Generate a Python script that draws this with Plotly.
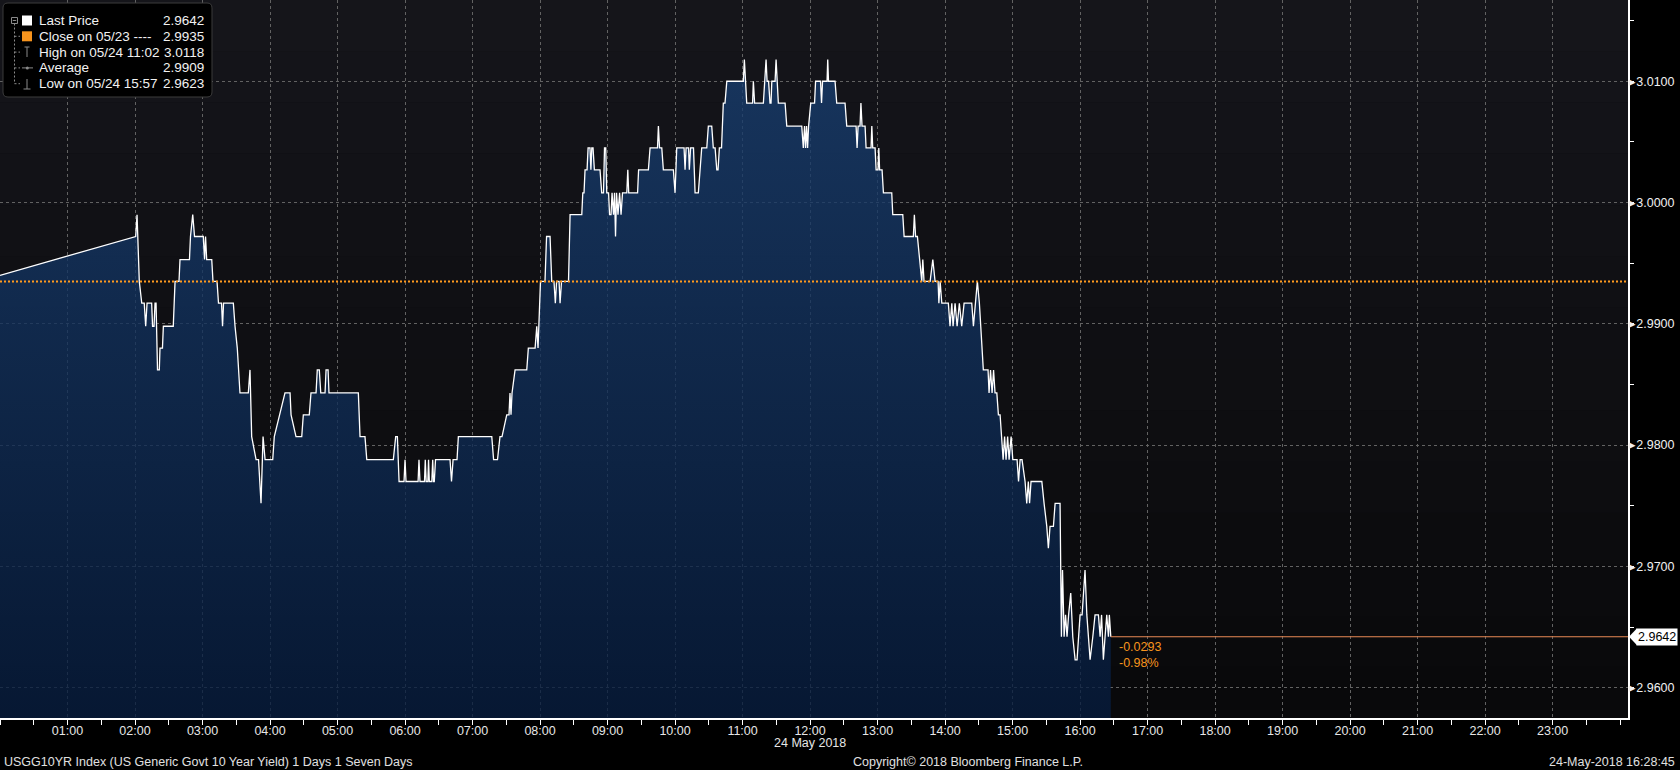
import pandas as pd
import plotly.graph_objects as go

# ---------------- data ----------------
BASE_DATE = "2018-05-24"
RANGE_START = "2018-05-24 00:00"
RANGE_END = "2018-05-25 00:07"

# minutes after midnight (24 May 2018)
time_min = [
    0.0, 120.6, 121.8, 123.8, 126.0, 128.2, 129.5, 130.7, 134.8, 135.6,
    136.9, 137.8, 138.7, 140.0, 141.6, 142.2, 144.4, 145.2, 154.0, 155.6,
    159.1, 160.0, 168.4, 169.3, 171.3, 172.9, 180.7, 181.8, 182.7, 183.7,
    188.2, 189.3, 192.9, 194.2, 196.9, 197.8, 198.7, 207.4, 208.9, 210.9,
    213.3, 220.7, 222.2, 223.7, 227.6, 229.8, 232.0, 233.8, 235.6, 242.4,
    243.8, 248.3, 253.3, 257.8, 258.7, 263.1, 268.2, 269.6, 274.9, 276.4,
    280.9, 282.0, 283.8, 285.1, 288.9, 289.8, 291.6, 292.4, 318.5, 320.0,
    324.4, 326.0, 349.6, 351.7, 353.2, 354.7, 359.1, 360.0, 360.9, 371.6,
    372.4, 373.3, 377.3, 378.0, 378.8, 380.3, 380.9, 381.6, 383.8, 384.6,
    385.3, 386.0, 387.1, 400.0, 401.3, 402.7, 406.2, 407.4, 437.1, 438.7,
    442.2, 444.4, 446.2, 450.4, 452.4, 453.3, 454.2, 455.1, 457.8, 468.2,
    469.6, 475.6, 477.1, 478.2, 479.1, 480.4, 484.4, 485.8, 488.9, 490.4,
    492.4, 493.6, 494.7, 496.9, 497.8, 499.1, 505.3, 506.7, 517.1, 518.0,
    519.1, 520.0, 521.8, 522.7, 524.4, 525.2, 526.0, 527.1, 528.3, 533.3,
    534.8, 536.4, 537.3, 538.4, 539.3, 540.9, 541.8, 543.1, 544.0, 545.3,
    546.2, 547.1, 548.0, 549.3, 550.7, 552.0, 553.3, 557.1, 558.0, 558.8,
    566.7, 567.6, 576.3, 577.8, 584.4, 585.2, 586.2, 588.2, 589.6, 598.5,
    600.0, 601.5, 608.0, 608.9, 609.8, 612.0, 612.7, 613.8, 616.4, 617.8,
    620.7, 622.2, 623.7, 628.2, 629.6, 632.6, 634.0, 635.6, 637.1, 638.2,
    639.4, 641.3, 642.9, 644.4, 646.0, 660.7, 661.6, 663.7, 668.9, 669.6,
    670.7, 678.5, 680.0, 680.9, 681.8, 683.1, 684.4, 685.3, 686.0, 688.9,
    689.8, 690.7, 691.8, 697.8, 699.3, 712.6, 714.0, 715.1, 716.0, 716.9,
    717.8, 718.7, 720.6, 724.0, 724.9, 729.3, 730.2, 731.1, 735.1, 735.7,
    736.4, 742.2, 743.7, 751.1, 752.6, 760.9, 761.8, 762.7, 764.4, 765.2,
    766.2, 768.9, 769.8, 774.2, 774.9, 775.7, 777.8, 778.7, 780.4, 781.1,
    781.8, 784.0, 785.2, 792.6, 793.5, 802.4, 803.6, 811.8, 812.7, 813.8,
    815.4, 819.3, 820.2, 821.3, 826.7, 829.1, 831.1, 833.8, 834.5, 835.6,
    837.1, 842.9, 844.4, 846.0, 847.1, 848.9, 850.7, 852.7, 854.8, 856.9,
    863.7, 865.2, 866.7, 868.7, 870.5, 872.6, 874.0, 878.2, 879.1, 880.4,
    881.8, 883.1, 884.4, 886.0, 887.4, 888.9, 890.4, 891.6, 892.9, 894.2,
    895.6, 896.9, 898.7, 900.2, 904.0, 905.3, 906.7, 908.4, 911.1, 912.6,
    914.0, 915.1, 916.4, 926.0, 928.0, 930.4, 931.8, 933.3, 936.3, 937.8,
    942.2, 943.4, 944.4, 945.8, 947.1, 948.4, 949.8, 951.7, 953.5, 955.6,
    957.3, 960.0, 961.8, 964.4, 966.0, 968.9, 971.3, 973.3, 976.3, 977.8,
    979.1, 980.7, 982.2, 983.7, 985.2, 986.0, 987.3,
]

yield_vals = [
    2.9940, 2.9972, 2.9990, 2.9935, 2.9917, 2.9917, 2.9898, 2.9917, 2.9917, 2.9898,
    2.9898, 2.9917, 2.9917, 2.9862, 2.9862, 2.9880, 2.9880, 2.9898, 2.9898, 2.9935,
    2.9935, 2.9953, 2.9953, 2.9972, 2.9990, 2.9972, 2.9972, 2.9953, 2.9972, 2.9953,
    2.9953, 2.9935, 2.9935, 2.9917, 2.9917, 2.9898, 2.9917, 2.9917, 2.9898, 2.9880,
    2.9843, 2.9843, 2.9862, 2.9807, 2.9788, 2.9788, 2.9752, 2.9807, 2.9788, 2.9788,
    2.9807, 2.9825, 2.9843, 2.9843, 2.9825, 2.9807, 2.9807, 2.9825, 2.9825, 2.9843,
    2.9843, 2.9862, 2.9862, 2.9843, 2.9843, 2.9862, 2.9862, 2.9843, 2.9843, 2.9807,
    2.9807, 2.9788, 2.9788, 2.9807, 2.9807, 2.9770, 2.9770, 2.9788, 2.9770, 2.9770,
    2.9788, 2.9770, 2.9770, 2.9788, 2.9770, 2.9770, 2.9788, 2.9770, 2.9770, 2.9788,
    2.9770, 2.9770, 2.9788, 2.9788, 2.9770, 2.9788, 2.9788, 2.9807, 2.9807, 2.9788,
    2.9788, 2.9807, 2.9807, 2.9825, 2.9825, 2.9843, 2.9825, 2.9843, 2.9862, 2.9862,
    2.9880, 2.9880, 2.9898, 2.9880, 2.9898, 2.9935, 2.9935, 2.9972, 2.9972, 2.9935,
    2.9935, 2.9917, 2.9935, 2.9935, 2.9917, 2.9935, 2.9935, 2.9990, 2.9990, 3.0008,
    3.0008, 3.0027, 3.0027, 3.0045, 3.0045, 3.0027, 3.0045, 3.0045, 3.0027, 3.0027,
    3.0008, 3.0008, 3.0045, 3.0045, 3.0008, 3.0008, 2.9990, 2.9990, 3.0008, 2.9990,
    3.0008, 2.9972, 3.0008, 2.9990, 3.0008, 2.9990, 3.0008, 3.0008, 3.0027, 3.0008,
    3.0008, 3.0027, 3.0027, 3.0045, 3.0045, 3.0063, 3.0045, 3.0045, 3.0027, 3.0027,
    3.0008, 3.0045, 3.0045, 3.0027, 3.0045, 3.0045, 3.0027, 3.0045, 3.0045, 3.0008,
    3.0008, 3.0027, 3.0045, 3.0045, 3.0063, 3.0063, 3.0045, 3.0045, 3.0027, 3.0027,
    3.0045, 3.0045, 3.0082, 3.0082, 3.0100, 3.0100, 3.0118, 3.0082, 3.0082, 3.0100,
    3.0082, 3.0082, 3.0100, 3.0118, 3.0100, 3.0100, 3.0082, 3.0082, 3.0100, 3.0100,
    3.0118, 3.0100, 3.0082, 3.0082, 3.0063, 3.0063, 3.0045, 3.0063, 3.0045, 3.0063,
    3.0045, 3.0063, 3.0082, 3.0082, 3.0100, 3.0100, 3.0082, 3.0100, 3.0100, 3.0118,
    3.0100, 3.0100, 3.0082, 3.0082, 3.0063, 3.0063, 3.0045, 3.0063, 3.0063, 3.0082,
    3.0063, 3.0063, 3.0045, 3.0045, 3.0063, 3.0045, 3.0045, 3.0027, 3.0027, 3.0045,
    3.0027, 3.0027, 3.0008, 3.0008, 2.9990, 2.9990, 2.9972, 2.9972, 2.9990, 2.9972,
    2.9972, 2.9935, 2.9953, 2.9935, 2.9935, 2.9953, 2.9935, 2.9935, 2.9917, 2.9935,
    2.9917, 2.9917, 2.9898, 2.9917, 2.9898, 2.9917, 2.9898, 2.9917, 2.9898, 2.9917,
    2.9917, 2.9898, 2.9917, 2.9935, 2.9917, 2.9880, 2.9862, 2.9862, 2.9843, 2.9862,
    2.9843, 2.9862, 2.9843, 2.9843, 2.9825, 2.9825, 2.9807, 2.9788, 2.9807, 2.9788,
    2.9807, 2.9788, 2.9807, 2.9788, 2.9788, 2.9770, 2.9788, 2.9788, 2.9770, 2.9752,
    2.9770, 2.9752, 2.9770, 2.9770, 2.9752, 2.9733, 2.9715, 2.9733, 2.9733, 2.9752,
    2.9752, 2.9642, 2.9697, 2.9642, 2.9660, 2.9642, 2.9660, 2.9678, 2.9642, 2.9623,
    2.9623, 2.9660, 2.9660, 2.9697, 2.9660, 2.9623, 2.9642, 2.9660, 2.9660, 2.9642,
    2.9660, 2.9623, 2.9642, 2.9660, 2.9642, 2.9660, 2.9642,
]

close_prev = 2.9935
last_price = 2.9642

legend_labels = ["Last Price", "Close on 05/23 ----", "High on 05/24 11:02", "Average", "Low on 05/24 15:57"]
legend_values = [2.9642, 2.9935, 3.0118, 2.9909, 2.9623]

x_tick_times = ["00:00", "01:00", "02:00", "03:00", "04:00", "05:00", "06:00", "07:00",
                "08:00", "09:00", "10:00", "11:00", "12:00", "13:00", "14:00", "15:00",
                "16:00", "17:00", "18:00", "19:00", "20:00", "21:00", "22:00", "23:00"]
x_tick_labels = [""] + x_tick_times[1:]
y_tick_vals = [2.96, 2.97, 2.98, 2.99, 3.00, 3.01]
y_tick_labels = ["2.9600", "2.9700", "2.9800", "2.9900", "3.0000", "3.0100"]

date_label = "24 May 2018"
footer_left = "USGG10YR Index (US Generic Govt 10 Year Yield) 1 Days 1 Seven Days"
footer_mid = "Copyright\u00a9 2018 Bloomberg Finance L.P."
footer_right = "24-May-2018 16:28:45"

# ---------------- figure ----------------
W, H = 1680, 770
ML, MR, MT, MB = 0, 52, 0, 52
PW, PH = W - ML - MR, H - MT - MB


def px(x):
    return x / PW


def py(y):
    return 1 - y / PH


FONT = "Liberation Sans, Arial, sans-serif"
ORANGE = "#f7941d"

times = pd.Timestamp(BASE_DATE) + pd.to_timedelta(time_min, unit="m")
tick_times = [f"{BASE_DATE} {t}" for t in x_tick_times]

fig = go.Figure()
shapes = []

# background gradient bands (decoration)
n_b = 14
top_c, bot_c = (21, 21, 26), (9, 9, 11)
for i in range(n_b):
    f = i / (n_b - 1)
    c = tuple(round(top_c[j] + (bot_c[j] - top_c[j]) * f) for j in range(3))
    shapes.append(dict(type="rect", xref="paper", yref="paper",
                       x0=0, x1=1, y0=1 - (i + 1) / n_b, y1=1 - i / n_b,
                       fillcolor=f"rgb({c[0]},{c[1]},{c[2]})", line_width=0, layer="below"))

# main price area
fig.add_trace(go.Scatter(
    x=times, y=yield_vals, mode="lines",
    line=dict(color="#ffffff", width=1.3),
    fill="tozeroy",
    fillgradient=dict(type="vertical", start=2.9575, stop=3.012,
                      colorscale=[[0, "rgba(6,28,62,0.78)"], [1, "rgba(24,62,112,0.78)"]]),
    hoverinfo="skip",
))

# previous close (dotted orange)
fig.add_trace(go.Scatter(
    x=[RANGE_START, RANGE_END], y=[close_prev, close_prev], mode="lines",
    line=dict(color="#ff9a1f", width=2, dash="2px,2px"), hoverinfo="skip",
))

# last price extension line
fig.add_trace(go.Scatter(
    x=[times[-1], RANGE_END], y=[last_price, last_price], mode="lines",
    line=dict(color="#ea8a55", width=1.2), hoverinfo="skip",
))

chg = last_price - close_prev
pct = chg / close_prev * 100
annotations = [
    dict(x=times[-1], y=last_price, xref="x", yref="y", xanchor="left", yanchor="top",
         xshift=6, yshift=-1, showarrow=False, align="left",
         text=f"{chg:.4f}<br>{pct:.2f}%", font=dict(family=FONT, size=12.5, color=ORANGE)),
    dict(x=1, y=last_price, xref="paper", yref="y", xanchor="left", yanchor="middle",
         xshift=8, showarrow=False, text=f"{last_price:.4f}", bgcolor="#ffffff",
         borderpad=1, font=dict(family=FONT, size=12.5, color="#000000")),
    dict(x=f"{BASE_DATE} 12:00", y=py(743.5), xref="x", yref="paper", showarrow=False,
         xanchor="center", yanchor="middle", text=date_label,
         font=dict(family=FONT, size=12.5, color="#e6e6e6")),
    dict(x=px(2), y=py(762), xref="paper", yref="paper", showarrow=False,
         xanchor="left", yanchor="middle", text=footer_left,
         font=dict(family=FONT, size=12.5, color="#e0e0e0")),
    dict(x=px(968), y=py(762), xref="paper", yref="paper", showarrow=False,
         xanchor="center", yanchor="middle", text=footer_mid,
         font=dict(family=FONT, size=12.5, color="#e0e0e0")),
    dict(x=px(1677), y=py(762), xref="paper", yref="paper", showarrow=False,
         xanchor="right", yanchor="middle", text=footer_right,
         font=dict(family=FONT, size=12.5, color="#e0e0e0")),
]

# rounded legend frame
x0, x1, y0, y1, r = 3, 212, 3, 97, 5
pts = [("M", x0 + r, y0), ("L", x1 - r, y0), ("Q", x1, y0, x1, y0 + r), ("L", x1, y1 - r),
       ("Q", x1, y1, x1 - r, y1), ("L", x0 + r, y1), ("Q", x0, y1, x0, y1 - r),
       ("L", x0, y0 + r), ("Q", x0, y0, x0 + r, y0)]
path = ""
for p in pts:
    cmd, coords = p[0], p[1:]
    path += cmd + " " + " ".join(
        f"{px(coords[k]):.5f},{py(coords[k + 1]):.5f}" for k in range(0, len(coords), 2)) + " "
path += "Z"
shapes.append(dict(type="path", xref="paper", yref="paper", path=path,
                   fillcolor="#000000", line=dict(color="#3c3c3c", width=1), layer="above"))

# legend texts
row_y = [20.5, 36.3, 52.1, 67.9, 83.7]
for lab, val, ry in zip(legend_labels, legend_values, row_y):
    annotations.append(dict(x=px(37), y=py(ry), xref="paper", yref="paper", showarrow=False,
                            xanchor="left", yanchor="middle", text=lab,
                            font=dict(family=FONT, size=13.5, color="#f2f2f2")))
    annotations.append(dict(x=px(206), y=py(ry), xref="paper", yref="paper", showarrow=False,
                            xanchor="right", yanchor="middle", text=f"{val:.4f}",
                            font=dict(family=FONT, size=13.5, color="#f2f2f2")))


def seg(xa, ya, xb, yb, color="#8a8a8a", width=1, dash="solid"):
    shapes.append(dict(type="line", xref="paper", yref="paper", x0=px(xa), y0=py(ya),
                       x1=px(xb), y1=py(yb), line=dict(color=color, width=width, dash=dash),
                       layer="above"))


def box(xa, ya, xb, yb, fill, line="rgba(0,0,0,0)"):
    shapes.append(dict(type="rect", xref="paper", yref="paper", x0=px(xa), y0=py(ya),
                       x1=px(xb), y1=py(yb), fillcolor=fill, line=dict(color=line, width=1),
                       layer="above"))


# tree decoration
box(11.5, 17.5, 17.5, 23.5, "#000000", "#8a8a8a")
seg(12.8, 20.5, 16.2, 20.5)
seg(14.5, 23.5, 14.5, 83.7, dash="2px,2px")
for ry in row_y[1:]:
    seg(14.5, ry, 20, ry, dash="2px,2px")
# icons
box(22, 15.5, 32, 25.5, "#ffffff")
box(22, 31.3, 32, 41.3, ORANGE)
seg(27, 47, 27, 57)
seg(24.5, 47, 29.5, 47)
seg(22, 67.9, 33, 67.9)
shapes.append(dict(type="circle", xref="paper", yref="paper", x0=px(25.8), x1=px(28.8),
                   y0=py(69.4), y1=py(66.4), fillcolor="#8a8a8a", line_width=0, layer="above"))
seg(27, 79, 27, 89)
seg(23.5, 89, 30.5, 89)

# pointer of last-price tag
shapes.append(dict(type="path", xref="paper", yref="y", xsizemode="pixel", xanchor=1,
                   ysizemode="pixel", yanchor=last_price,
                   path="M 1,0 L 9,-8.5 L 9,8.5 Z", fillcolor="#ffffff", line_width=0,
                   layer="above"))

fig.update_layout(
    width=W, height=H,
    margin=dict(l=ML, r=MR, t=MT, b=MB, pad=0, autoexpand=False),
    paper_bgcolor="#000000", plot_bgcolor="#0f0f13",
    showlegend=False,
    font=dict(family=FONT, size=12.5, color="#e8e8e8"),
    annotations=annotations,
    shapes=shapes,
    xaxis=dict(
        type="date", range=[RANGE_START, RANGE_END],
        tickmode="array", tickvals=tick_times, ticktext=x_tick_labels,
        showgrid=True, gridcolor="#626262", griddash="3px,3px", gridwidth=1,
        showline=True, linecolor="#ffffff", linewidth=1.5,
        ticks="", zeroline=False,
        tickfont=dict(family=FONT, size=12.5, color="#e6e6e6"),
        minor=dict(tick0=f"{BASE_DATE} 00:00", dtick=1800000, ticks="outside", ticklen=5,
                   tickcolor="#ffffff", tickwidth=1, showgrid=False),
    ),
    yaxis=dict(
        side="right", range=[2.9575, 3.0167],
        tickmode="array", tickvals=y_tick_vals, ticktext=["\u25b8" + s for s in y_tick_labels],
        showgrid=True, gridcolor="#626262", griddash="3px,3px", gridwidth=1,
        showline=True, linecolor="#ffffff", linewidth=1.5,
        ticks="", zeroline=False, ticklabelstandoff=-3,
        tickfont=dict(family=FONT, size=12.5, color="#f0f0f0"),
        minor=dict(tick0=2.955, dtick=0.005, ticks="outside", ticklen=4,
                   tickcolor="#ffffff", tickwidth=1, showgrid=False),
    ),
)

fig.write_html("out.html", config={"displayModeBar": False}, post_script=(
    "document.body.style.margin='0';document.body.style.overflow='hidden';"
    "document.body.style.background='#000';"))
